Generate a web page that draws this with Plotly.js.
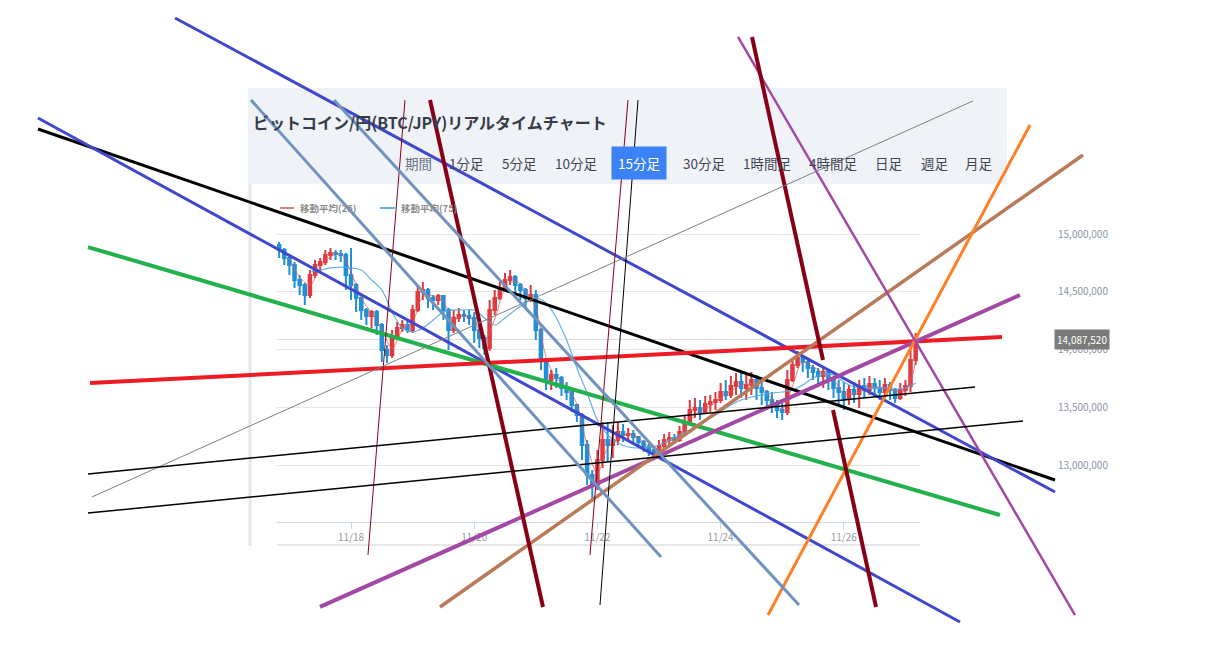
<!DOCTYPE html>
<html><head><meta charset="utf-8">
<script src="https://cdn.plot.ly/plotly-3.0.1.min.js"></script>
<style>html,body{margin:0;padding:0;background:#fff;}#chart{width:1206px;height:650px;}</style>
</head><body><div id="chart"></div>
<script>
// ---------------- DATA ----------------
const candleStartUTC = Date.UTC(2024, 10, 16, 20, 0); // first 2-hour candle
const candleStepHours = 2;
const openPrice = [14905000,14861000,14792000,14732000,14602000,14558000,14472000,14645000,14732000,14758000,
14818000,14835000,14827000,14818000,14645000,14558000,14446000,14342000,14290000,14325000,
14212000,13996000,13952000,14100000,14186000,14212000,14169000,14342000,14498000,14515000,
14446000,14429000,14463000,14342000,14169000,14273000,14299000,14290000,14273000,14169000,
14100000,14013000,14342000,14446000,14532000,14602000,14628000,14558000,14515000,14446000,
14472000,14169000,13909000,13736000,13779000,13753000,13667000,13632000,13519000,13433000,
13173000,12913000,12827000,13043000,13216000,13173000,13216000,13286000,13260000,13268000,
13242000,13199000,13156000,13130000,13113000,13165000,13216000,13234000,13216000,13286000,
13372000,13476000,13494000,13459000,13528000,13545000,13563000,13632000,13606000,13684000,
13719000,13667000,13693000,13736000,13667000,13632000,13563000,13528000,13476000,13459000,
13736000,13866000,13926000,13892000,13840000,13805000,13771000,13805000,13736000,13667000,
13632000,13580000,13649000,13615000,13684000,13649000,13701000,13667000,13632000,13693000,
13649000,13580000,13649000,13684000,13909000];
const highPrice = [14931000,14879000,14818000,14758000,14645000,14576000,14688000,14775000,14792000,14861000,
14879000,14861000,14861000,14835000,14879000,14576000,14455000,14359000,14342000,14342000,
14230000,14039000,14169000,14238000,14255000,14255000,14385000,14558000,14584000,14532000,
14472000,14480000,14472000,14359000,14342000,14359000,14342000,14342000,14325000,14212000,
14126000,14429000,14515000,14602000,14662000,14688000,14645000,14576000,14532000,14558000,
14515000,14186000,13926000,13823000,13840000,13771000,13719000,13649000,13528000,13450000,
13217000,12957000,13130000,13372000,13372000,13346000,13372000,13355000,13320000,13303000,
13251000,13216000,13182000,13165000,13216000,13268000,13286000,13268000,13338000,13424000,
13563000,13580000,13563000,13597000,13606000,13632000,13710000,13736000,13771000,13797000,
13805000,13797000,13805000,13779000,13736000,13649000,13632000,13563000,13537000,13823000,
13926000,13987000,13952000,13909000,13866000,13840000,13840000,13823000,13753000,13736000,
13719000,13693000,13719000,13736000,13753000,13771000,13753000,13736000,13753000,13719000,
13667000,13710000,13736000,14039000,14143000];
const lowPrice = [14792000,14732000,14645000,14532000,14472000,14385000,14446000,14619000,14671000,14732000,
14775000,14775000,14758000,14515000,14429000,14325000,14255000,14212000,14186000,14126000,
13892000,13883000,13926000,14082000,14152000,14143000,14143000,14325000,14429000,14359000,
14342000,14385000,14255000,13996000,14143000,14238000,14238000,14212000,14056000,14013000,
13952000,13987000,14299000,14429000,14515000,14558000,14472000,14429000,14359000,14411000,
14082000,13823000,13649000,13649000,13667000,13597000,13563000,13459000,13372000,13043000,
12827000,12680000,12784000,12974000,13026000,13061000,13173000,13199000,13216000,13199000,
13147000,13113000,13078000,13061000,13087000,13147000,13173000,13182000,13199000,13268000,
13346000,13407000,13390000,13450000,13459000,13476000,13537000,13563000,13580000,13606000,
13580000,13563000,13606000,13563000,13519000,13476000,13450000,13407000,13390000,13433000,
13719000,13840000,13805000,13753000,13736000,13693000,13667000,13649000,13580000,13519000,
13476000,13519000,13537000,13494000,13580000,13606000,13597000,13563000,13580000,13563000,
13537000,13563000,13597000,13632000,13866000];
const closePrice = [14861000,14792000,14732000,14602000,14558000,14472000,14645000,14732000,14758000,14818000,
14835000,14827000,14818000,14645000,14558000,14446000,14342000,14290000,14325000,14212000,
13996000,13952000,14100000,14186000,14212000,14169000,14342000,14498000,14515000,14446000,
14429000,14463000,14342000,14169000,14273000,14299000,14290000,14273000,14169000,14100000,
14013000,14342000,14446000,14532000,14602000,14628000,14558000,14515000,14446000,14472000,
14169000,13909000,13736000,13779000,13753000,13667000,13632000,13519000,13433000,13173000,
12913000,12827000,13043000,13216000,13173000,13216000,13286000,13260000,13268000,13242000,
13199000,13156000,13130000,13113000,13165000,13216000,13234000,13216000,13286000,13372000,
13476000,13494000,13459000,13528000,13545000,13563000,13632000,13606000,13684000,13719000,
13667000,13693000,13736000,13667000,13632000,13563000,13528000,13476000,13459000,13736000,
13866000,13926000,13892000,13840000,13805000,13771000,13805000,13736000,13667000,13632000,
13580000,13649000,13615000,13684000,13649000,13701000,13667000,13632000,13693000,13649000,
13580000,13649000,13684000,13909000,14087520];

// moving averages, sampled every 4 hours (first sample at candle 2 / candle 6)
const ma25FirstCandle = 2;
const ma25 = [14792000,14628000,14558000,14714000,14801000,14827000,14671000,14446000,14316000,14178000,
14013000,14169000,14238000,14455000,14463000,14411000,14264000,14290000,14247000,14091000,
14264000,14524000,14593000,14506000,14359000,13935000,13753000,13684000,13528000,13173000,
12931000,13147000,13225000,13268000,13234000,13165000,13139000,13208000,13242000,13381000,
13476000,13511000,13580000,13641000,13693000,13701000,13675000,13571000,13485000,13684000,
13892000,13848000,13797000,13736000,13623000,13615000,13649000,13675000,13667000,13641000,
13641000,13892000];
const ma75FirstCandle = 6;
const ma75 = [14671000,14688000,14706000,14714000,14706000,14688000,14602000,14515000,14325000,14186000,
14152000,14186000,14255000,14325000,14342000,14342000,14342000,14273000,14212000,14273000,
14342000,14403000,14446000,14403000,14273000,14082000,13840000,13623000,13390000,13260000,
13190000,13156000,13147000,13156000,13173000,13216000,13260000,13303000,13346000,13407000,
13459000,13519000,13563000,13589000,13606000,13623000,13632000,13649000,13693000,13753000,
13788000,13779000,13719000,13675000,13667000,13667000,13667000,13658000,13667000,13710000];

const legendNames = ['移動平均(25)', '移動平均(75)'];
const titleText = 'ビットコイン/円(BTC/JPY)リアルタイムチャート';
const periodLabels = ['期間','1分足','5分足','10分足','15分足','30分足','1時間足','4時間足','日足','週足','月足'];
const activePeriod = '15分足';
const dateTicks = ['2024-11-18','2024-11-20','2024-11-22','2024-11-24','2024-11-26'];
const priceTicks = [13000000, 13500000, 14000000, 14500000, 15000000];

// hand-drawn trend lines: start/end (time, price)
const trendStartTime = ['2024-11-12 22:03','2024-11-15 03:26','2024-11-12 22:03','2024-11-13 17:32','2024-11-13 18:19',
  '2024-11-17 11:55','2024-11-19 10:40','2024-11-24 18:28','2024-11-24 06:47','2024-11-24 12:14',
  '2024-11-25 19:48','2024-11-19 06:47','2024-11-18 21:02','2024-11-22 11:55','2024-11-22 15:49',
  '2024-11-13 19:05','2024-11-13 17:32','2024-11-13 17:32','2024-11-16 09:02','2024-11-17 17:23'];
const trendStartPrice = [15909000,16870000,16004000,14887000,13710000,
  11771000,11771000,11701000,16706000,16706000,
  13476000,16160000,16160000,16160000,16160000,
  12723000,12922000,12584000,16160000,16160000];
const trendEndTime = ['2024-11-29 10:17','2024-11-29 10:17','2024-11-27 21:16','2024-11-28 12:51','2024-11-28 13:38',
  '2024-11-28 20:39','2024-11-29 21:12','2024-11-29 00:33','2024-11-29 18:05','2024-11-25 15:54',
  '2024-11-26 12:33','2024-11-21 02:48','2024-11-18 06:37','2024-11-21 21:07','2024-11-22 01:01',
  '2024-11-28 02:20','2024-11-28 03:07','2024-11-28 21:49','2024-11-23 00:47','2024-11-25 06:33'];
const trendEndPrice = [12870000,12766000,11641000,12567000,14108000,
  14472000,15684000,15944000,11701000,13909000,
  11771000,11771000,12221000,12221000,11788000,
  16152000,13675000,13381000,12203000,11788000];

// ---------------- STYLE ----------------
const trendColor = ['#000000','#3f48cc','#3f48cc','#22b14c','#ed1c24',
  '#a349a4','#b97a57','#ff7f27','#a349a4','#880015',
  '#880015','#880015','#880015','#880015','#000000',
  '#7f7f7f','#000000','#000000','#7092be','#7092be'];
const trendWidth = [3,3,3,4,4, 4,3.5,3,2.5,4, 4,4,1,1,1, 1,1.5,1.5,3,3];

const W = 1206, H = 650;
const px = v => v / W, py = v => 1 - v / H;
// screenshot geometry: 11/18 00:00 at x=351, 61.6 px per day; 14,000,000 at y=349.5, 8658 yen per px
const DAY = 864e5, base = Date.UTC(2024, 10, 18);
const timeAtPx = x => base + (x - 351) / 61.6 * DAY;
const priceAtPx = y => 14e6 + (349.5 - y) * 8658;

const stepMs = candleStepHours * 3600e3;
const candleTimes = openPrice.map((_, i) => candleStartUTC + i * stepMs);
const ma25Times = ma25.map((_, k) => candleStartUTC + (ma25FirstCandle + 2 * k) * stepMs);
const ma75Times = ma75.map((_, k) => candleStartUTC + (ma75FirstCandle + 2 * k) * stepMs);
const lastPrice = closePrice[closePrice.length - 1];

const traces = [];
traces.push({type:'scatter', mode:'lines', x:ma75Times, y:ma75, xaxis:'x', yaxis:'y3', name:legendNames[1],
  line:{color:'rgba(80,170,226,0.9)', width:1.2, shape:'spline'}, hoverinfo:'none'});
traces.push({type:'candlestick', x:candleTimes, open:openPrice, high:highPrice, low:lowPrice, close:closePrice,
  xaxis:'x', yaxis:'y', whiskerwidth:0, hoverinfo:'none',
  increasing:{line:{color:'#df3b3f', width:2}, fillcolor:'#df3b3f'},
  decreasing:{line:{color:'#1f8fd8', width:2}, fillcolor:'#1f8fd8'}});
traces.push({type:'scatter', mode:'lines', x:ma25Times, y:ma25, xaxis:'x', yaxis:'y', name:legendNames[0],
  line:{color:'rgba(226,90,90,0.75)', width:1, shape:'spline'}, hoverinfo:'none'});
trendStartTime.forEach((t, k) => {
  traces.push({type:'scatter', mode:'lines', x:[t, trendEndTime[k]], y:[trendStartPrice[k], trendEndPrice[k]],
    xaxis:'x2', yaxis:'y2', line:{color:trendColor[k], width:trendWidth[k]}, hoverinfo:'none'});
});

const shapes = [
  {type:'rect', xref:'paper', yref:'paper', x0:px(248), x1:px(1007), y0:py(184), y1:py(88), fillcolor:'#eff2f7', line:{width:0}, layer:'below'},
  {type:'line', xref:'paper', yref:'paper', x0:px(250), x1:px(250), y0:py(184), y1:py(546), line:{color:'#e3e6ea', width:3}, layer:'below'},
  {type:'line', xref:'paper', yref:'paper', x0:px(277), x1:px(920), y0:py(545), y1:py(545), line:{color:'#cfcfcf', width:1}, layer:'below'},
  {type:'line', xref:'x domain', yref:'y', x0:0, x1:1, y0:lastPrice, y1:lastPrice, line:{color:'#dcdcdc', width:1}, layer:'below'},
  {type:'line', xref:'paper', yref:'paper', x0:px(280), x1:px(294), y0:py(208), y1:py(208), line:{color:'rgba(226,90,90,0.8)', width:2}},
  {type:'line', xref:'paper', yref:'paper', x0:px(380), x1:px(395), y0:py(208), y1:py(208), line:{color:'rgba(80,170,226,0.9)', width:2}}
];

const periodX = [418,466,519,576,639,704,767,833,889,935,979];
const annotations = [
  {text:titleText, xref:'paper', yref:'paper', x:px(251), y:py(122), xanchor:'left', yanchor:'middle', showarrow:false,
   font:{size:16, color:'#363c48', family:'Noto Sans CJK JP', weight:'bold'}},
  {text:legendNames[0], xref:'paper', yref:'paper', x:px(298), y:py(208), xanchor:'left', yanchor:'middle', showarrow:false,
   font:{size:9.5, color:'#8d8d8d', weight:'bold'}},
  {text:legendNames[1], xref:'paper', yref:'paper', x:px(399), y:py(208), xanchor:'left', yanchor:'middle', showarrow:false,
   font:{size:9.5, color:'#8d8d8d', weight:'bold'}},
  {text:lastPrice.toLocaleString('en-US'), xref:'paper', yref:'y', x:px(1082), y:lastPrice, xanchor:'center', yanchor:'middle',
   showarrow:false, bgcolor:'#7b7b7b', borderpad:2, font:{size:10, color:'#ffffff'}}
];
periodLabels.forEach((lab, k) => {
  const active = lab === activePeriod;
  annotations.push({text:lab, xref:'paper', yref:'paper', x:px(periodX[k]), y:py(163), xanchor:'center', yanchor:'middle',
    showarrow:false, font:{size:13.5, color: active ? '#ffffff' : (k === 0 ? '#6d7380' : '#3f4652')},
    bgcolor: active ? '#3b82f6' : 'rgba(0,0,0,0)', borderpad: active ? 6 : 0});
});

const yRange = [priceAtPx(522), priceAtPx(200)];
const layout = {
  width:W, height:H, margin:{l:0, r:0, t:0, b:0, pad:0},
  paper_bgcolor:'#ffffff', plot_bgcolor:'rgba(0,0,0,0)', showlegend:false, hovermode:false,
  font:{family:'"Noto Sans CJK JP", "Noto Sans", sans-serif', size:10, color:'#888'},
  xaxis:{domain:[px(277), px(920)], range:[timeAtPx(277), timeAtPx(920)], type:'date', anchor:'y',
    rangeslider:{visible:false}, showgrid:false, zeroline:false, showline:true, linecolor:'#ccd6eb', linewidth:1,
    ticks:'outside', ticklen:6, tickcolor:'#ccd6eb', tickvals:dateTicks, tickformat:'%m/%d',
    tickfont:{size:10, color:'#9a9a9a'}, fixedrange:true},
  yaxis:{domain:[py(522), py(200)], range:yRange, anchor:'x', showgrid:true,
    gridcolor:'#e6e6e6', gridwidth:1, tickvals:priceTicks, showticklabels:false, zeroline:false, showline:false,
    ticks:'', fixedrange:true},
  yaxis3:{overlaying:'y', side:'right', anchor:'free', position:px(1057), range:yRange,
    tickvals:priceTicks, tickformat:',d', tickfont:{size:10, color:'#8b95a8'}, showgrid:false, showline:false,
    ticks:'', zeroline:false, fixedrange:true},
  xaxis2:{domain:[0,1], range:[timeAtPx(0), timeAtPx(W)], type:'date', anchor:'y2', visible:false, fixedrange:true},
  yaxis2:{domain:[0,1], range:[priceAtPx(H), priceAtPx(0)], anchor:'x2', visible:false, fixedrange:true},
  shapes:shapes, annotations:annotations
};
Plotly.newPlot('chart', traces, layout, {staticPlot:true, displayModeBar:false});
</script>
</body></html>
